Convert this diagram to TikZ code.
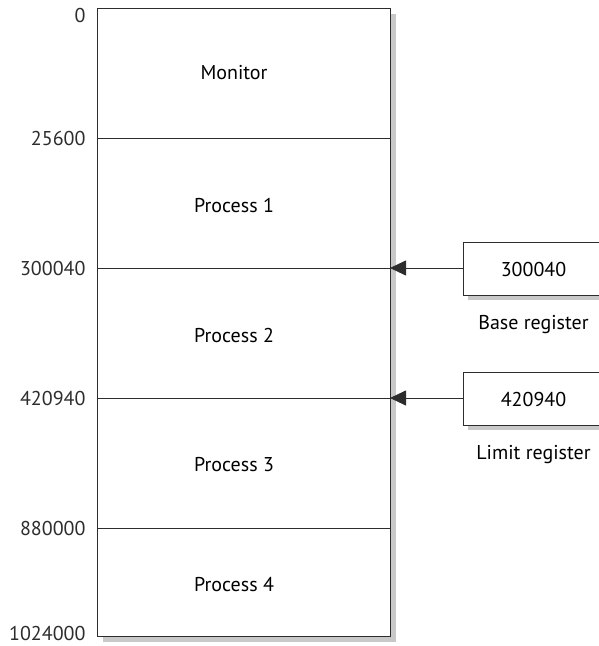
\documentclass[tikz,border=0pt]{standalone}
\usepackage{fontspec}
\setmainfont{PT Sans}
\usetikzlibrary{arrows.meta,positioning,shadows}
\definecolor{lineGray}{RGB}{45,45,45}
\definecolor{shadowGray}{RGB}{200,200,200}

\begin{document}
\begin{tikzpicture}[
    x=1pt, y=-1pt,
    font=\fontsize{20}{24}\selectfont,
    memory/.style={
        draw=lineGray,
        line width=1pt,
        fill=white,
        drop shadow={shadow xshift=5pt, shadow yshift=-5pt,
                     fill=shadowGray, opacity=1}
    },
    divider/.style={
        lineGray,
        line width=0.8pt
    },
    register/.style={
        draw=lineGray,
        line width=1pt,
        fill=white,
        minimum width=140pt,
        minimum height=53pt,
        inner sep=0pt,
        drop shadow={shadow xshift=4pt, shadow yshift=-4pt,
                     fill=shadowGray, opacity=1}
    },
    address/.style={
        anchor=east,
        text=lineGray
    },
    pointer/.style={
        lineGray,
        line width=0.8pt,
        -{Triangle[length=16pt,width=15pt]}
    }
]
\useasboundingbox (0,0) rectangle (599,646);
\clip (0,0) rectangle (599,646);

%------------------------------------------------
% Memory
%------------------------------------------------
\node[memory, inner sep=0pt, minimum width=293pt, minimum height=628pt,
      anchor=north west] (mem) at (97,8) {};

\foreach \y in {138,268,398,528}
    \draw[divider] (97,\y) -- (390,\y);

\node (monitor) at (234,73) {Monitor};
\node (procone) at (234,205) {Process 1};
\node (proctwo) at (234,335) {Process 2};
\node (procthree) at (234,465) {Process 3};
\node (procfour) at (234,585) {Process 4};

%------------------------------------------------
% Addresses
%------------------------------------------------
\node[address] (azero) at (89,15) {0};
\node[address] (aone) at (89,138) {25600};
\node[address] (atwo) at (89,268) {300040};
\node[address] (athree) at (89,398) {420940};
\node[address] (afour) at (89,528) {880000};
\node[address] (afive) at (89,633) {1024000};

%------------------------------------------------
% Base and limit registers
%------------------------------------------------
\node[register, anchor=north west] (base) at (463,242) {300040};
\node[below=16pt of base] (baselabel) {Base register};

\node[register, anchor=north west] (limit) at (463,372) {420940};
\node[below=16pt of limit] (limitlabel) {Limit register};

\coordinate (basetip) at (390,268);
\coordinate (limittip) at (390,398);

\draw[pointer] (base.west |- basetip) -- (basetip);
\draw[pointer] (limit.west |- limittip) -- (limittip);

\end{tikzpicture}
\end{document}
